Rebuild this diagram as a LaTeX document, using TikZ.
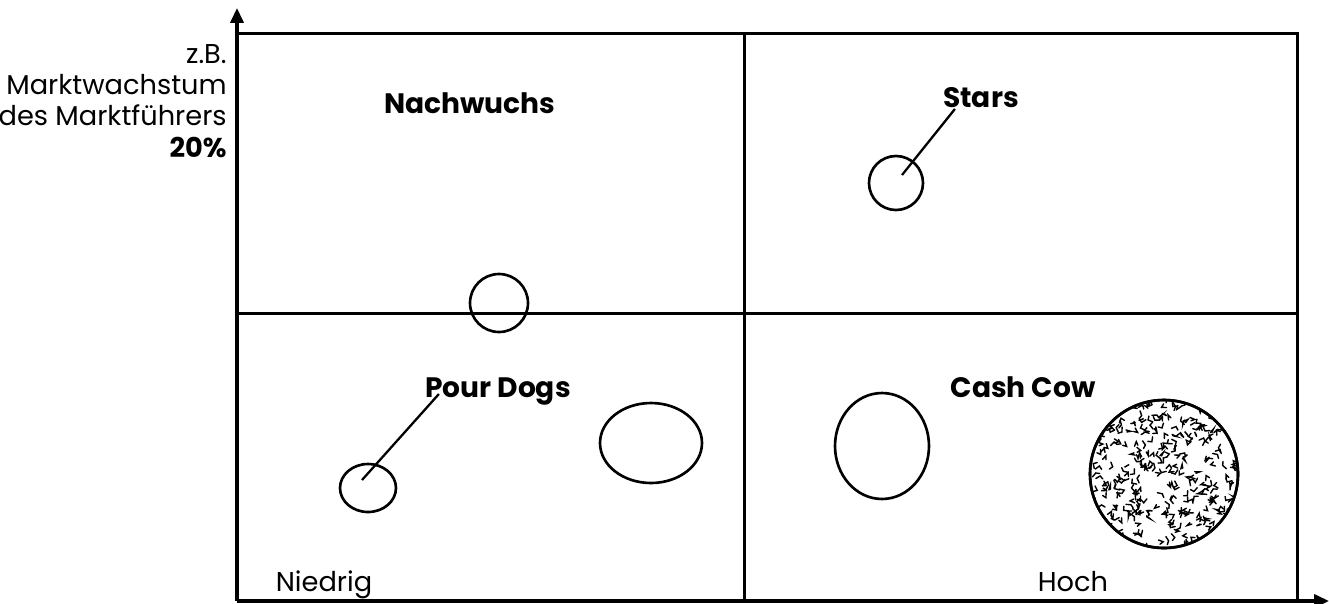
\documentclass[tikz,border=0pt]{standalone}
\usepackage{fontspec}
\setmainfont{Poppins}
\usetikzlibrary{arrows.meta,shapes.geometric}

\begin{document}
\begin{tikzpicture}[x=0.02cm,y=-0.02cm]
	\tikzset{axis/.style={-{Triangle[length=8.5pt, width=7.5pt]}, line width=1.8pt},
		grid/.style={line width=1.7pt},
		bubble/.style={draw, ellipse, line width=1.5pt, inner sep=0pt},
		leader/.style={line width=1.3pt},
		field/.style={font=\fontsize{16}{19}\selectfont\bfseries, anchor=base, inner sep=0pt},
		scalelabel/.style={font=\fontsize{15.5}{17}\selectfont, anchor=base, inner sep=0pt},
		speck/.style={line width=0.8pt, line cap=round}}
	\useasboundingbox (0,0) rectangle (1329,603);
	
	% axes and quadrants
	\coordinate (origin) at (237,601);
	\coordinate (ytip) at (237,8);
	\coordinate (xtip) at (1329,601);
	\draw[axis] (origin) -- (ytip);
	\draw[axis] (origin) -- (xtip);
	\draw[grid] (237,33) -- (1297,33) -- (1297,601);
	\draw[grid] (744,33) -- (744,601);
	\draw[grid] (237,313) -- (1297,313);
	
	% scale labels
	\node[scalelabel, anchor=north east, align=right, font=\fontsize{15.5}{17.8}\selectfont] (growth) at (227,44)
		{z.B.\\Marktwachstum\\des Marktführers\\\textbf{20\%}};
	\node[scalelabel] (low) at (324,591) {Niedrig};
	\node[scalelabel] (high) at (1073,591) {Hoch};
	
	% quadrant names
	\node[field] (nachwuchs) at (470,113) {Nachwuchs};
	\node[field] (stars) at (981,107) {Stars};
	\node[field] (dogs) at (498,397) {Pour Dogs};
	\node[field] (cashcow) at (1023,397) {Cash Cow};
	
	% products
	\node[bubble, minimum width=1.16cm, minimum height=1.16cm] (midbub) at (499,303) {};
	\node[bubble, minimum width=1.08cm, minimum height=1.08cm] (starsbub) at (896,183) {};
	\node[bubble, minimum width=1.12cm, minimum height=0.96cm] (dogsbub) at (368,488) {};
	\node[bubble, minimum width=2.04cm, minimum height=1.60cm] (wide) at (651,443) {};
	\node[bubble, minimum width=1.88cm, minimum height=2.12cm] (tall) at (882,446) {};
	\node[bubble, minimum width=2.96cm, minimum height=2.96cm] (cashbub) at (1164,474) {};
	
	\draw[leader] ([shift={(6,-8)}]starsbub.center) -- ([shift={(12,2)}]stars.base west);
	\draw[leader] ([shift={(-6,-8)}]dogsbub.center) -- ([shift={(14,-3)}]dogs.base west);
	
	% texture of the big product
	\begin{scope}
		\clip (cashbub.center) circle (73);
		\pgfmathsetseed{11}
		\foreach \i in {1,...,360}{
			\pgfmathsetmacro{\sx}{1164+150*(rnd-0.5)}
			\pgfmathsetmacro{\sy}{474+150*(rnd-0.5)}
			\pgfmathsetmacro{\sa}{360*rnd}
			\pgfmathsetmacro{\sb}{\sa+50+130*rnd}
			\draw[speck] (\sx,\sy) -- ++(\sa:5) -- ++(\sb:4);
		}
	\end{scope}
	\draw[line width=1.5pt] (cashbub.center) circle (74);
\end{tikzpicture}
\end{document}
